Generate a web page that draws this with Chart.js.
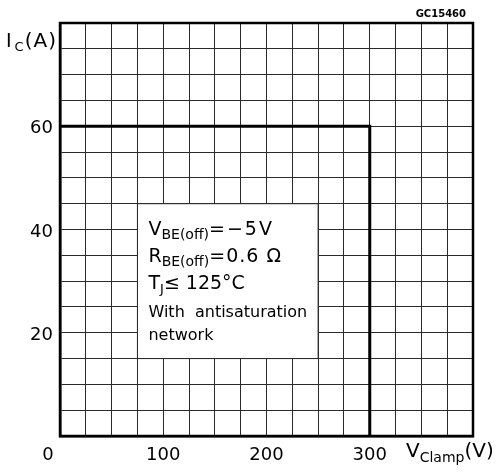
<!DOCTYPE html>
<html>
<head>
<meta charset="utf-8">
<script src="https://cdn.jsdelivr.net/npm/chart.js@4/dist/chart.umd.min.js"></script>
<style>
  html, body { margin: 0; padding: 0; background: #fff; }
  #wrap { width: 497px; height: 473px; }
</style>
</head>
<body>
<div id="wrap"><canvas id="soa"></canvas></div>
<script>
// --- dados ---
const limitV = [0, 300, 300];      // V clamp (V)
const limitI = [60, 60, 0];        // Ic (A)
const xLabels = [100, 200, 300];
const yLabels = [20, 40, 60];
const noteBox = { x0: 75, x1: 250, y0: 15, y1: 45 };  // área branca da legenda (em unidades do gráfico)
const noteLines = [
  [["V", 19, 0], ["BE(off)", 14, 4], ["=\u22125V", 19, 0, 2]],
  [["R", 19, 0], ["BE(off)", 14, 4], ["=0.6 \u03A9", 19, 0, 1]],
  [["T", 19, 0], ["J", 13, 4], ["\u2264 125\u00B0C", 19, 0]],
  [["With  antisaturation", 16, 0]],
  [["network", 16, 0]]
];

const FONT = '"DejaVu Sans", sans-serif';

// desenha um texto com partes em subscrito
function drawRuns(ctx, runs, x, y) {
  runs.forEach(([t, size, dy, sp]) => {
    ctx.font = size + "px " + FONT;
    ctx.letterSpacing = (sp || 0) + "px";
    ctx.fillText(t, x, y + dy);
    x += ctx.measureText(t).width;
  });
  ctx.letterSpacing = "0px";
}

const labelsPlugin = {
  id: "labelsPlugin",
  beforeDatasetsDraw(chart) {
    const ctx = chart.ctx;
    const xs = chart.scales.x, ys = chart.scales.y;
    const l = xs.getPixelForValue(noteBox.x0), r = xs.getPixelForValue(noteBox.x1);
    const t = ys.getPixelForValue(noteBox.y1), b = ys.getPixelForValue(noteBox.y0);
    ctx.save();
    ctx.fillStyle = "#fff";
    ctx.fillRect(l, t, r - l, b - t);
    ctx.strokeStyle = "#222";
    ctx.lineWidth = 1;
    ctx.strokeRect(l, t, r - l, b - t);
    ctx.restore();
  },
  afterDraw(chart) {
    const ctx = chart.ctx;
    const xs = chart.scales.x, ys = chart.scales.y;
    ctx.save();
    ctx.fillStyle = "#000";
    ctx.textBaseline = "alphabetic";

    // ticks Y
    ctx.font = "18px " + FONT;
    ctx.textAlign = "right";
    yLabels.forEach(v => ctx.fillText(String(v), xs.left - 7, ys.getPixelForValue(v) + 7));
    // ticks X
    ctx.textAlign = "center";
    xLabels.forEach(v => ctx.fillText(String(v), xs.getPixelForValue(v), ys.bottom + 24));
    ctx.fillText("0", xs.left - 12, ys.bottom + 24);

    // títulos dos eixos
    ctx.textAlign = "left";
    drawRuns(ctx, [["I", 19, 0, 3], ["C", 13, 4, 1], ["(A)", 20, 0, 1]], 6, 47);
    drawRuns(ctx, [["V", 20, 0], ["Clamp", 14, 5], ["(V)", 20, 0]], 406, 457);

    // referência
    ctx.font = "bold 10px " + FONT;
    ctx.textAlign = "right";
    ctx.fillText("GC15460", 466, 17);

    // texto da legenda
    ctx.textAlign = "left";
    const x0 = xs.getPixelForValue(noteBox.x0) + 11;
    const base = [235, 262, 289, 317, 340];
    noteLines.forEach((runs, i) => drawRuns(ctx, runs, x0, base[i]));
    ctx.restore();
  }
};

new Chart(document.getElementById("soa"), {
  type: "scatter",
  data: {
    datasets: [{
      data: limitV.map((v, i) => ({ x: v, y: limitI[i] })),
      showLine: true,
      borderColor: "#000",
      borderWidth: 3,
      pointRadius: 0,
      fill: false
    }]
  },
  options: {
    responsive: true,
    maintainAspectRatio: false,
    animation: false,
    layout: { padding: { left: 60, top: 23, right: 24, bottom: 37 } },
    plugins: { legend: { display: false }, tooltip: { enabled: false } },
    scales: {
      x: {
        type: "linear", min: 0, max: 400,
        ticks: { display: false, stepSize: 25 },
        grid: { color: "#2a2a2a", lineWidth: 1, drawTicks: false },
        border: { display: true, color: "#000", width: 2.5 }
      },
      y: {
        type: "linear", min: 0, max: 80,
        ticks: { display: false, stepSize: 5 },
        grid: { color: "#2a2a2a", lineWidth: 1, drawTicks: false },
        border: { display: true, color: "#000", width: 2.5 }
      }
    }
  },
  plugins: [labelsPlugin, {
    id: "frame",
    afterDatasetsDraw(chart) {
      const { left, top, right, bottom } = chart.chartArea;
      const ctx = chart.ctx;
      ctx.save();
      ctx.strokeStyle = "#000";
      ctx.lineWidth = 2.5;
      ctx.strokeRect(left, top, right - left, bottom - top);
      ctx.restore();
    }
  }]
});
</script>
</body>
</html>
